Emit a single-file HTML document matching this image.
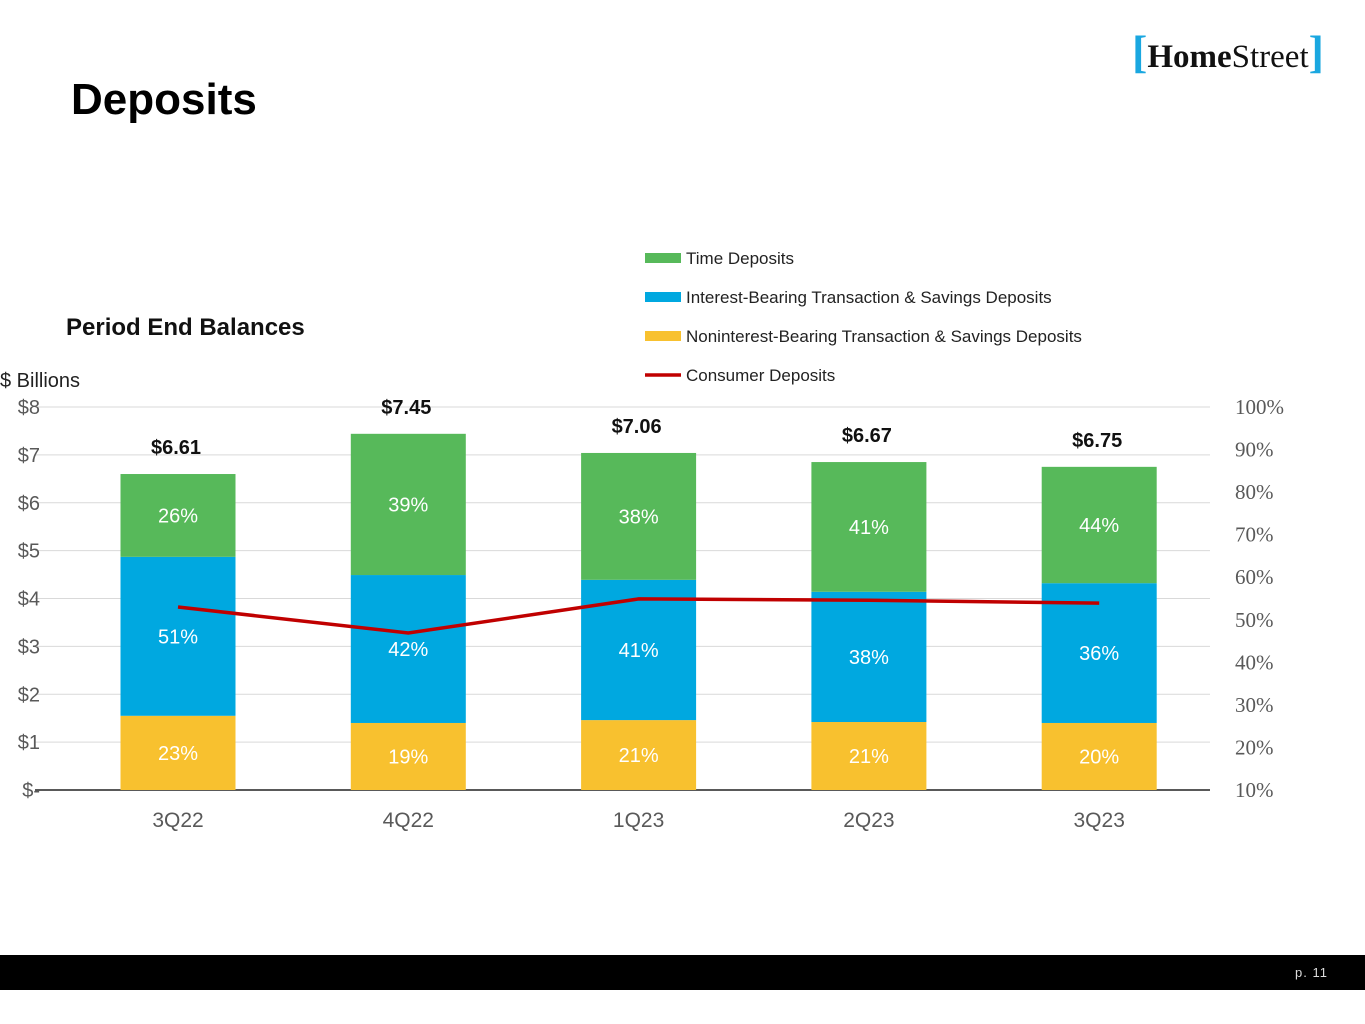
<!DOCTYPE html>
<html><head><meta charset="utf-8"><style>
body{margin:0;width:1365px;height:1024px;background:#fff;position:relative;overflow:hidden;font-family:"Liberation Sans",sans-serif}
.abs{position:absolute}
</style></head><body>
<div class="abs" style="left:71px;top:75px;font-size:44px;font-weight:bold;color:#000">Deposits</div>
<div class="abs" style="left:1132px;top:28px;height:48px;font-family:'Liberation Serif',serif;font-size:33px;color:#111;line-height:48px;white-space:nowrap">
<span style="color:#1aa7e0;font-size:46px;font-weight:bold">[</span><b>Home</b>Street<span style="color:#1aa7e0;font-size:46px;font-weight:bold">]</span></div>
<div class="abs" style="left:66px;top:314px;font-size:24px;font-weight:bold;color:#111">Period End Balances</div>
<div class="abs" style="left:0px;top:370px;font-size:20px;color:#222">$ Billions</div>
<svg class="abs" style="left:0;top:0" width="1365" height="1024" id="chart"></svg>
<div class="abs" style="left:0;top:955px;width:1365px;height:35px;background:#000"></div>
<div class="abs" style="left:1295px;top:965px;font-size:13px;color:#ddd;letter-spacing:1px">p. 11</div>
<script>
const categories=["3Q22","4Q22","1Q23","2Q23","3Q23"];
const nonInterest=[1.55,1.40,1.46,1.42,1.40];
const interest=[3.32,3.09,2.93,2.72,2.92];
const timeDep=[1.73,2.95,2.65,2.71,2.43];
const totalLabels=["$6.61","$7.45","$7.06","$6.67","$6.75"];
const nonPct=["23%","19%","21%","21%","20%"];
const intPct=["51%","42%","41%","38%","36%"];
const timePct=["26%","39%","38%","41%","44%"];
const consumer=[53,46.9,54.9,54.6,53.9];
const leftTicks=[0,1,2,3,4,5,6,7,8];
const rightTicks=[10,20,30,40,50,60,70,80,90,100];
const svg=document.getElementById('chart');
const NS='http://www.w3.org/2000/svg';
const y=v=>790-v*47.875;
const yr=p=>790-(p-10)*(383/90);
const x=i=>178+i*230.3;
const bw=115;
function mk(t,a,txt){const e=document.createElementNS(NS,t);for(const k in a)e.setAttribute(k,a[k]);if(txt!=null)e.textContent=txt;svg.appendChild(e);return e;}
leftTicks.forEach(v=>{
 const g=mk('line',{x1:35,x2:1210,y1:y(v),y2:y(v),stroke:v==0?'#222':'#d9d9d9','stroke-width':v==0?1.5:1});
 
 const t=mk('text',{x:40,y:y(v)+7,'text-anchor':'end','font-size':20,fill:'#595959'},v==0?'$-':'$'+v);
 
});
rightTicks.forEach(p=>{
 const t=mk('text',{x:1235,y:yr(p)+7,'font-size':21,fill:'#595959','font-family':'Liberation Serif, serif'},p+'%');
 
});
categories.forEach((c,i)=>{
 const segs=[[nonInterest[i],'#f8c12f',nonPct[i]],[interest[i],'#00a8e0',intPct[i]],[timeDep[i],'#57b95a',timePct[i]]];
 let base=0;
 segs.forEach((s,j)=>{
  const r=mk('rect',{x:x(i)-bw/2,y:y(base+s[0]),width:bw,height:s[0]*47.875,fill:s[1]});
  
  
  const t=mk('text',{x:x(i),y:y(base+s[0]/2)+7,'text-anchor':'middle','font-size':20,fill:'#fff'},s[2]);
  
  base+=s[0];
 });
 const tl=mk('text',{x:x(i)-2,y:y(base)-20,'text-anchor':'middle','font-size':20,'font-weight':'bold',fill:'#111'},totalLabels[i]);
 
 const cl=mk('text',{x:x(i),y:827,'text-anchor':'middle','font-size':21,fill:'#595959'},c);
 
});
const pl=mk('polyline',{points:consumer.map((p,i)=>x(i)+','+yr(p)).join(' '),fill:'none',stroke:'#c00000','stroke-width':3.5});

const leg=[['Time Deposits','#57b95a','rect'],['Interest-Bearing Transaction & Savings Deposits','#00a8e0','rect'],['Noninterest-Bearing Transaction & Savings Deposits','#f8c12f','rect'],['Consumer Deposits','#c00000','line']];
leg.forEach((l,i)=>{
 const yy=258+i*39;
 const s=l[2]=='rect'?mk('rect',{x:645,y:yy-5,width:36,height:10,fill:l[1]}):mk('line',{x1:645,x2:681,y1:yy,y2:yy,stroke:l[1],'stroke-width':3.5});
 
 const t=mk('text',{x:686,y:yy+6,'font-size':17,fill:'#222'},l[0]);
 
});
</script>
</body></html>
